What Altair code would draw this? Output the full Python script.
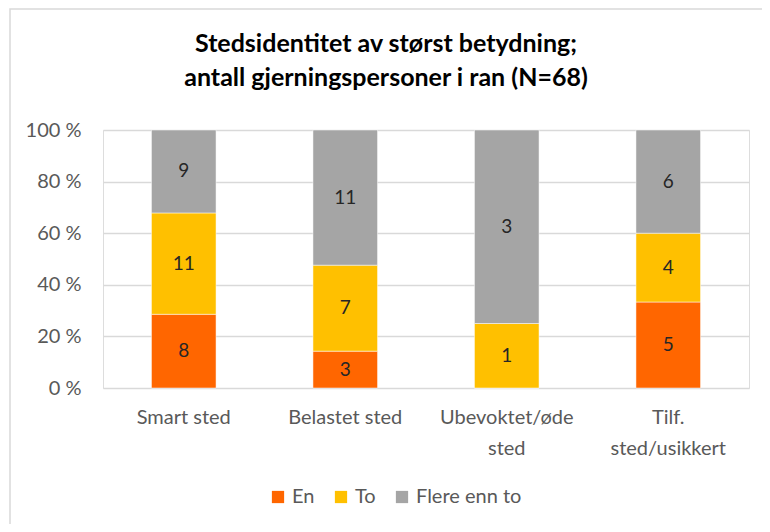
import altair as alt
import pandas as pd

categories = ["Smart sted", "Belastet sted", "Ubevoktet/øde sted", "Tilf. sted/usikkert"]
series = ["En", "To", "Flere enn to"]
en = [8, 3, 0, 5]
to = [11, 7, 1, 4]
flere = [9, 11, 3, 6]
colors = ["#FF6600", "#FFC000", "#A5A5A5"]
y_ticks = [0, 0.2, 0.4, 0.6, 0.8, 1.0]

rows = []
for i, c in enumerate(categories):
    for j, (s, vals) in enumerate(zip(series, [en, to, flere])):
        rows.append({"cat": c, "serie": s, "order": j, "value": vals[i]})
df = pd.DataFrame(rows)

FONT = "Lato"
LBL = 20

base = alt.Chart(df).transform_stack(
    stack="value", groupby=["cat"], as_=["v0", "v1"], offset="normalize",
    sort=[alt.SortField("order", order="ascending")]
).transform_calculate(mid="(datum.v0 + datum.v1) / 2")

x_enc = alt.X("cat:N", sort=categories, title=None,
              scale=alt.Scale(paddingInner=0.6, paddingOuter=0.3),
              axis=alt.Axis(labelAngle=0, labelFontSize=LBL, labelColor="#595959",
                            labelFont=FONT, labelPadding=19, labelLineHeight=31,
                            ticks=False, domain=False, labelBaseline="top",
                            labelExpr="datum.label == 'Ubevoktet/øde sted' ? ['Ubevoktet/øde', 'sted'] : datum.label == 'Tilf. sted/usikkert' ? ['Tilf.', 'sted/usikkert'] : datum.label"))

bars = base.mark_bar(stroke="white", strokeWidth=0.5).encode(
    x=x_enc,
    y=alt.Y("v0:Q", title=None,
            scale=alt.Scale(domain=[0, 1], nice=False),
            axis=alt.Axis(values=y_ticks, labelExpr="round(datum.value * 100) + ' %'",
                          labelFontSize=LBL, labelColor="#595959", labelFont=FONT,
                          labelPadding=22, ticks=False, domain=False,
                          gridColor="#D9D9D9", gridWidth=1.5)),
    y2="v1:Q",
    color=alt.Color("serie:N", sort=series,
                    scale=alt.Scale(domain=series, range=colors),
                    legend=alt.Legend(title=None, orient="none", direction="horizontal",
                                      legendX=165, legendY=357, symbolType="square",
                                      symbolSize=150, symbolStrokeWidth=0,
                                      labelFontSize=LBL, labelColor="#595959",
                                      labelFont=FONT, columnPadding=16, labelOffset=4)),
)

labels = base.transform_filter("datum.value > 0").mark_text(
    fontSize=19, font=FONT, color="#262626"
).encode(
    x=alt.X("cat:N", sort=categories),
    y=alt.Y("mid:Q"),
    text="value:Q",
)

border = alt.Chart(pd.DataFrame({"a": [0]})).mark_rect(
    fill=None, stroke="#D9D9D9", strokeWidth=1.5
).encode(x=alt.value(-93), x2=alt.value(700), y=alt.value(-121), y2=alt.value(450))

chart = alt.layer(border, bars, labels).properties(
    width=646, height=258,
    autosize=alt.AutoSizeParams(type="none"),
    padding={"left": 95, "top": 122, "right": 13, "bottom": 136},
    title=alt.TitleParams(
        text=["Stedsidentitet av størst betydning;", "antall gjerningspersoner i ran (N=68)"],
        fontSize=25, font=FONT, fontWeight="bold", color="#000000",
        anchor="middle", offset=-83, lineHeight=34, frame="group", dx=-40,
    ),
).configure_view(stroke=None).configure(background="white")

chart.save("out.html", embed_options={"renderer": "svg", "actions": False})
